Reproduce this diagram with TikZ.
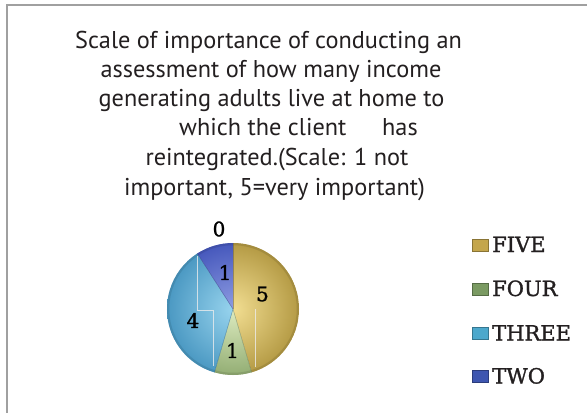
\documentclass[tikz,border=0pt]{standalone}
\usepackage{fontspec}
\setmainfont{DejaVu Serif}
\newfontfamily\titlefont{PT Sans}
\newfontfamily\legfont[FakeBold=1.3]{DejaVu Serif}
\definecolor{frameg}{HTML}{A0A0A0}
\definecolor{txt}{HTML}{231F20}
\definecolor{fiveL}{HTML}{F2DE92}
\definecolor{fiveD}{HTML}{B49A44}
\definecolor{fourL}{HTML}{DDEBC0}
\definecolor{fourD}{HTML}{93AE74}
\definecolor{threeL}{HTML}{98D4EE}
\definecolor{threeD}{HTML}{4A98C2}
\definecolor{twoL}{HTML}{8E9CE2}
\definecolor{twoD}{HTML}{4658BC}
\definecolor{fiveS}{HTML}{C4A64C}
\definecolor{fourS}{HTML}{7A9A62}
\definecolor{threeS}{HTML}{4CA8CC}
\definecolor{twoS}{HTML}{3E56B0}
\newcommand\myslice[4]{%
  \begin{scope}
    \clip (0,0) -- (#1:66) arc[start angle=#1, end angle=#2, radius=66] -- cycle;
    \shade[inner color=#3, outer color=#4] (0,0) circle[radius=66];
    \draw[#4!80!black, line width=2.5pt, opacity=0.45] (0,0) circle[radius=65];
  \end{scope}
  \draw[#4!70!black, line width=0.5pt, opacity=0.6] (0,0) -- (#1:66);
}
\tikzset{
  titleline/.style={font=\titlefont\fontsize{24.3}{29}\selectfont, text=txt, inner sep=0pt, anchor=base},
  pielabel/.style={font=\legfont\fontsize{20}{22}\selectfont, text=black, inner sep=0pt},
  legtext/.style={font=\legfont\fontsize{21}{24}\selectfont, text=txt, inner sep=0pt, anchor=base west},
  legbox/.style={minimum width=16pt, minimum height=12pt, inner sep=0pt, draw=#1!70!black, line width=0.4pt, fill=#1},
  faint/.style={draw=white!85!gray, line width=0.7pt, opacity=0.8}
}
\begin{document}
\begin{tikzpicture}[x=1pt,y=-1pt]
\useasboundingbox (0,0) rectangle (587,413);
\fill[white] (0,0) rectangle (587,413);
% frame
\draw[frameg, line width=2pt] (587,4.5) -- (7,4.5) -- (7,413);
% title
\node[titleline] (t1) at (268.5,48) {Scale of importance of conducting an};
\node[titleline] (t2) at (271,77) {assessment of how many income};
\node[titleline] (t3) at (271.5,106) {generating adults live at home to};
\node[titleline, anchor=base west] (t4a) at (179,135.5) {which the client};
\node[titleline, anchor=base west] (t4b) at (382,135.5) {has};
\node[titleline] (t5) at (277,165) {reintegrated.(Scale: 1 not};
\node[titleline] (t6) at (274.5,195) {important, 5=very important)};
% pie
\begin{scope}[shift={(233,309)}, yscale=-1]
  \myslice{90}{-73.64}{fiveL}{fiveD}
  \myslice{-73.64}{-106.36}{fourL}{fourD}
  \myslice{-106.36}{-237.27}{threeL}{threeD}
  \myslice{-237.27}{-270}{twoL}{twoD}
\end{scope}
% faint artefact lines
\draw[faint] (197,256) -- (197,310) -- (213,310) -- (213,366);
\draw[faint] (255,309) -- (255,367);
% pie labels
\node[pielabel] (l0) at (219,229) {0};
\node[pielabel] (l2) at (225,272.5) {1};
\node[pielabel] (l5) at (262.5,294) {5};
\node[pielabel] (l3) at (193,320.5) {4};
\node[pielabel] (l4) at (232.5,350.5) {1};
% legend
\node[legbox=fiveS] (b5) at (480,245) {};
\node[legtext] (g5) at (492,252) {FIVE};
\node[legbox=fourS] (b4) at (480,289) {};
\node[legtext] (g4) at (492,296) {FOUR};
\node[legbox=threeS] (b3) at (480,333.5) {};
\node[legtext] (g3) at (492,340.5) {THREE};
\node[legbox=twoS] (b2) at (480,376.5) {};
\node[legtext] (g2) at (492,383.5) {TWO};
\end{tikzpicture}
\end{document}
